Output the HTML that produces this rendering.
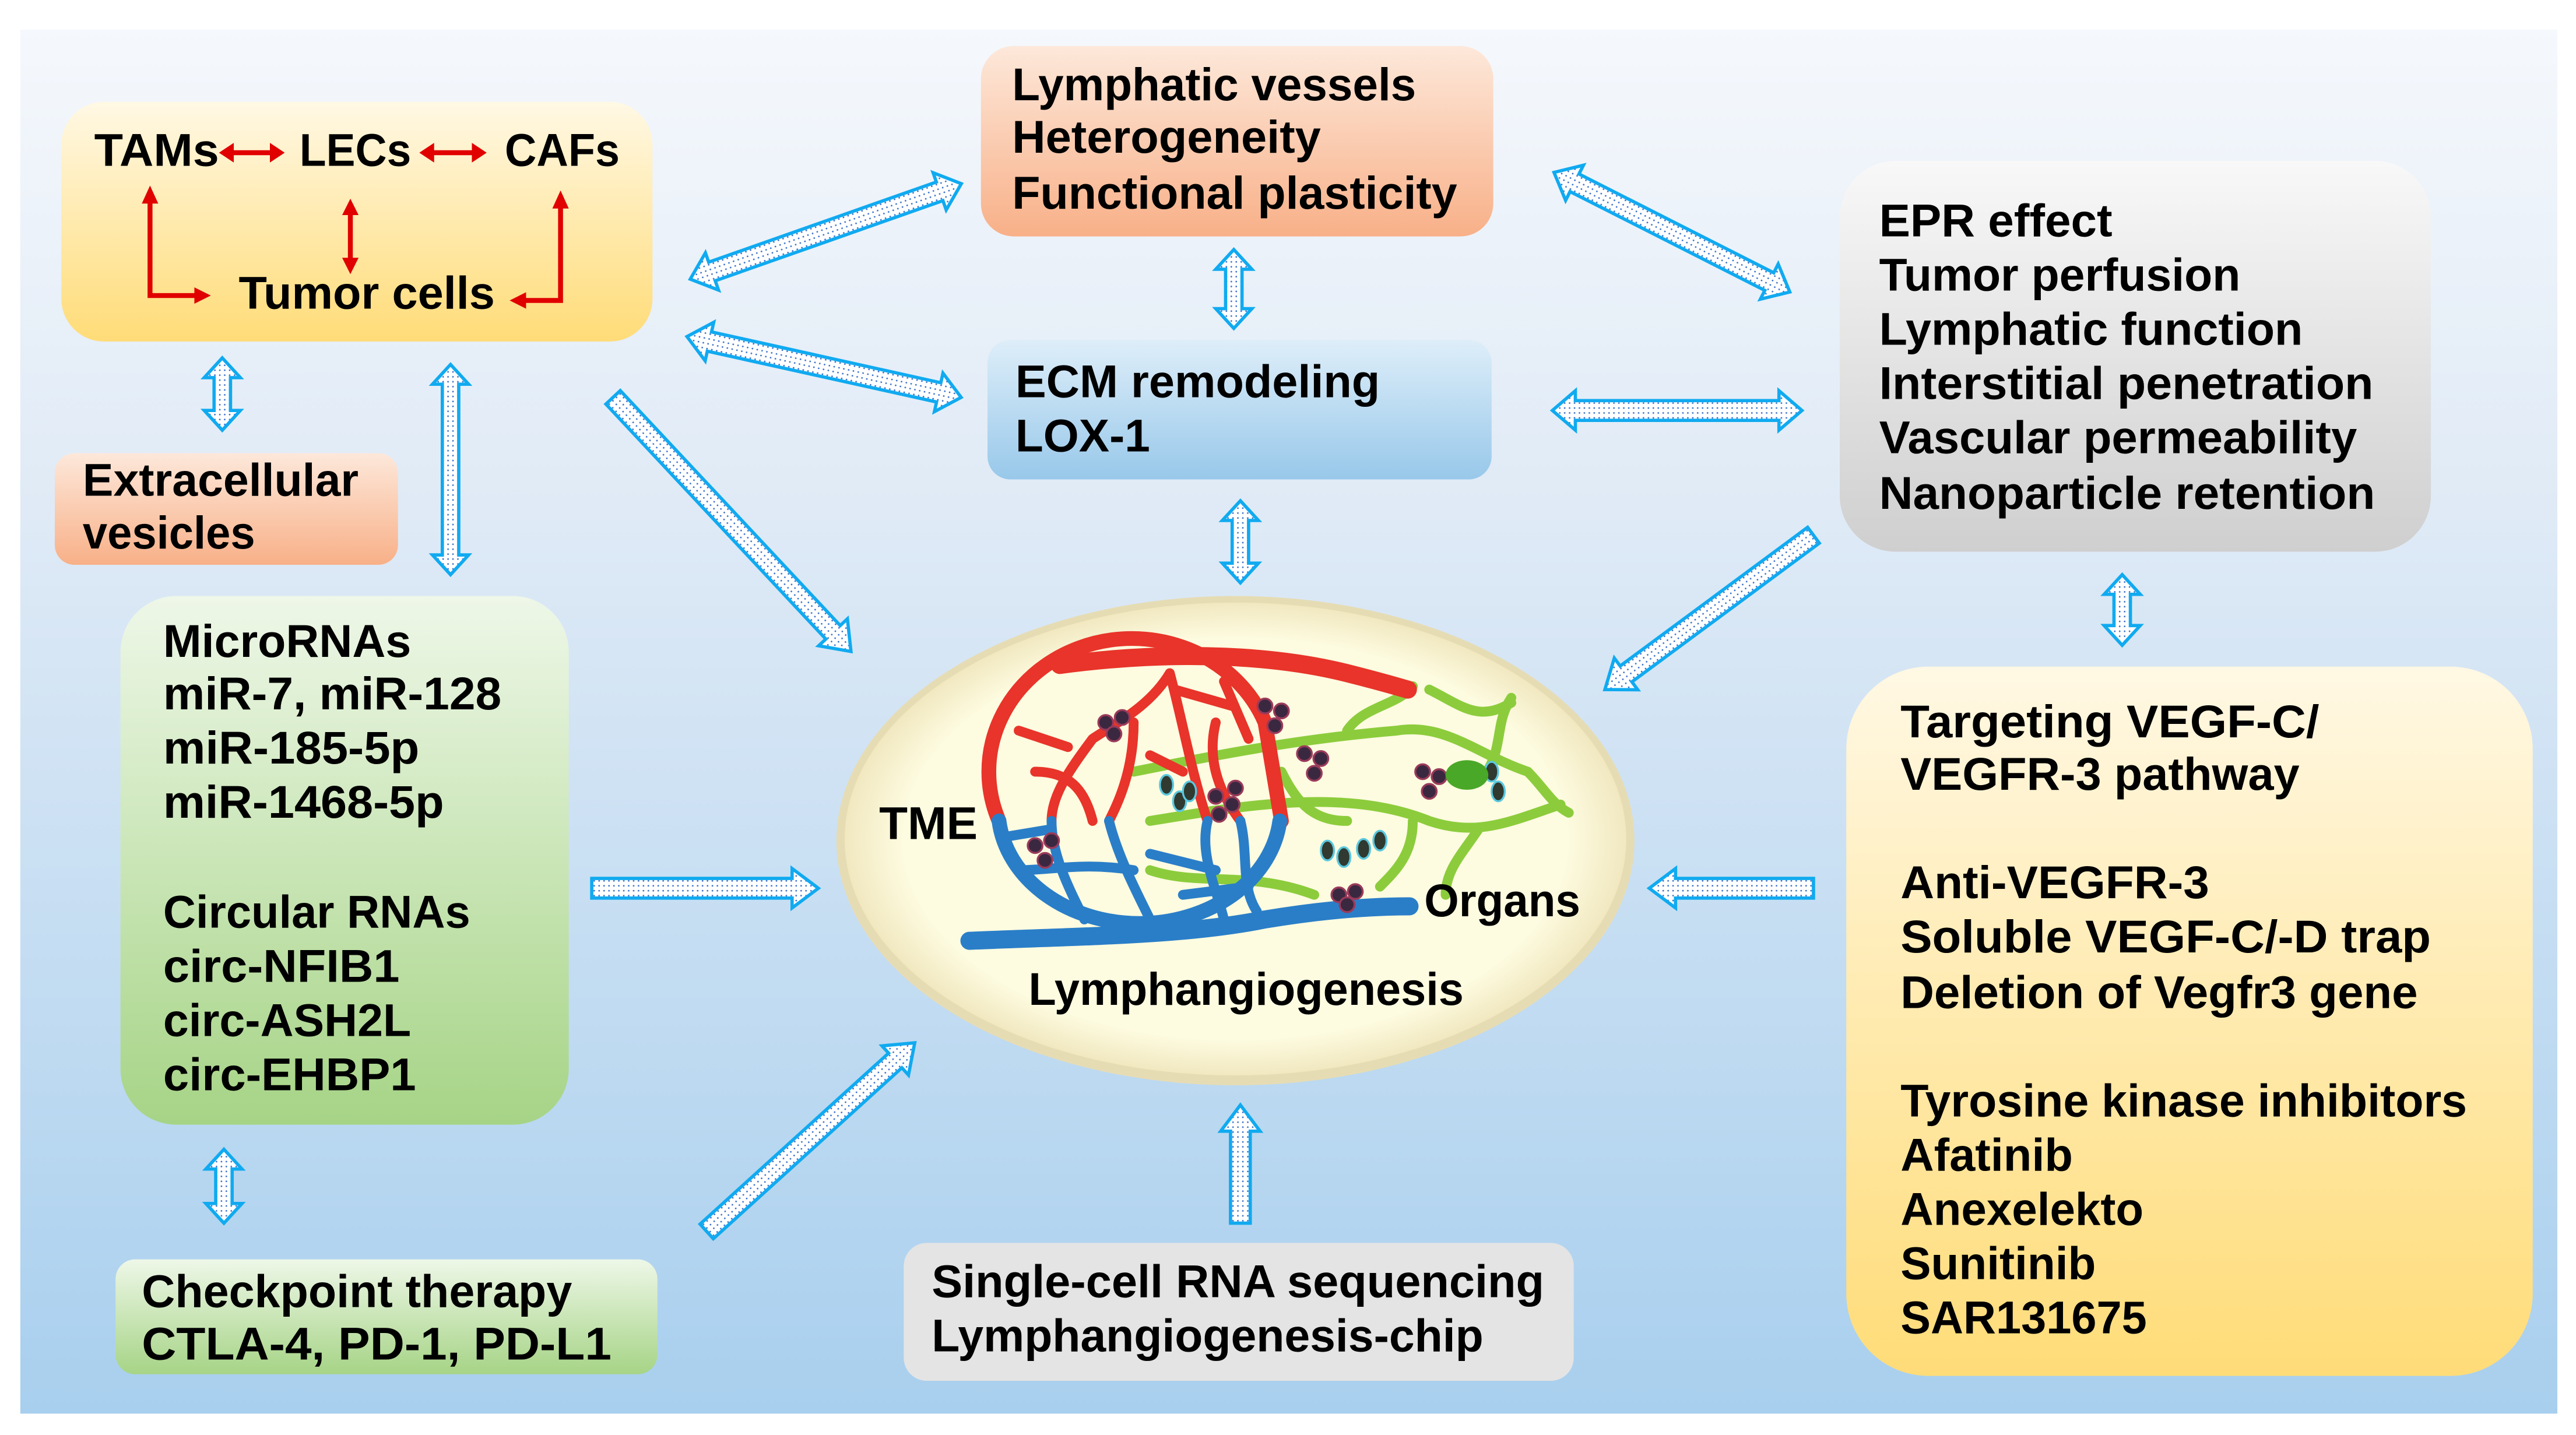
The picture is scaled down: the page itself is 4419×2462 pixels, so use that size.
<!DOCTYPE html>
<html><head><meta charset="utf-8"><style>
html,body{margin:0;padding:0;background:#fff;}
svg{display:block;}
text{font-family:"Liberation Sans Narrow","Liberation Sans",sans-serif;font-size:28px;font-weight:bold;fill:#000;}
</style></head><body>
<svg width="4419" height="2462" viewBox="0 0 1568 874" xmlns="http://www.w3.org/2000/svg">
<defs>
<linearGradient id="bg" x1="0" y1="0" x2="0" y2="1"><stop offset="0" stop-color="#f5f8fc"/><stop offset="0.35" stop-color="#dfeaf6"/><stop offset="1" stop-color="#a8cfee"/></linearGradient>
<linearGradient id="yel" x1="0" y1="0" x2="0" y2="1"><stop offset="0" stop-color="#fff8e4"/><stop offset="1" stop-color="#ffdc78"/></linearGradient>
<linearGradient id="peach" x1="0" y1="0" x2="0" y2="1"><stop offset="0" stop-color="#fde8da"/><stop offset="1" stop-color="#f8b088"/></linearGradient>
<linearGradient id="blue" x1="0" y1="0" x2="0" y2="1"><stop offset="0" stop-color="#deeef9"/><stop offset="1" stop-color="#98c8ea"/></linearGradient>
<linearGradient id="gray" x1="0" y1="0" x2="0" y2="1"><stop offset="0" stop-color="#f8f8f8"/><stop offset="1" stop-color="#cfcfcf"/></linearGradient>
<linearGradient id="green" x1="0" y1="0" x2="0" y2="1"><stop offset="0" stop-color="#eef7e8"/><stop offset="1" stop-color="#a6d486"/></linearGradient>
<radialGradient id="ell" cx="0.5" cy="0.5" r="0.5"><stop offset="0.85" stop-color="#fdfbe0"/><stop offset="1" stop-color="#f1e8c0"/></radialGradient>
<pattern id="dots" width="3" height="3" patternUnits="userSpaceOnUse"><rect width="3" height="3" fill="#fff"/><circle cx="1.5" cy="1.5" r="0.5" fill="#3a70c8"/></pattern>
</defs>
<rect x="12" y="18" width="1545" height="843" fill="url(#bg)"/>

<rect x="37" y="62" width="360" height="146" rx="26" fill="url(#yel)"/>
<rect x="597" y="28" width="312" height="116" rx="20" fill="url(#peach)"/>
<rect x="601" y="207" width="307" height="85" rx="14" fill="url(#blue)"/>
<rect x="1120" y="98" width="360" height="238" rx="34" fill="url(#gray)"/>
<rect x="33" y="276" width="209" height="68" rx="12" fill="url(#peach)"/>
<rect x="73" y="363" width="273" height="322" rx="34" fill="url(#green)"/>
<rect x="70" y="767" width="330" height="70" rx="12" fill="url(#green)"/>
<rect x="550" y="757" width="408" height="84" rx="14" fill="#e4e4e4"/>
<rect x="1124" y="406" width="418" height="432" rx="50" fill="url(#yel)"/>

<text x="57" y="101" textLength="76" lengthAdjust="spacingAndGlyphs">TAMs</text>
<text x="182" y="101" textLength="68" lengthAdjust="spacingAndGlyphs">LECs</text>
<text x="307" y="101" textLength="70" lengthAdjust="spacingAndGlyphs">CAFs</text>
<text x="145" y="188" textLength="156" lengthAdjust="spacingAndGlyphs">Tumor cells</text>
<g fill="#e00000" stroke="#e00000" stroke-width="3">
<line x1="140" y1="93" x2="166" y2="93"/><polygon points="133,93 142,87 142,99" stroke="none"/><polygon points="173,93 164,87 164,99" stroke="none"/>
<line x1="262" y1="93" x2="289" y2="93"/><polygon points="255,93 264,87 264,99" stroke="none"/><polygon points="296,93 287,87 287,99" stroke="none"/>
<line x1="213" y1="128" x2="213" y2="160"/><polygon points="213,121 208,131 218,131" stroke="none"/><polygon points="213,167 208,157 218,157" stroke="none"/>
<polyline points="91,122 91,180 120,180" fill="none"/><polygon points="91,113 86,124 96,124" stroke="none"/><polygon points="128,180 118,175 118,185" stroke="none"/>
<polyline points="341,125 341,183 318,183" fill="none"/><polygon points="341,116 336,127 346,127" stroke="none"/><polygon points="310,183 320,178 320,188" stroke="none"/>
</g>

<text x="616" y="61" textLength="246" lengthAdjust="spacingAndGlyphs">Lymphatic vessels</text>
<text x="616" y="93" textLength="188" lengthAdjust="spacingAndGlyphs">Heterogeneity</text>
<text x="616" y="127" textLength="271" lengthAdjust="spacingAndGlyphs">Functional plasticity</text>
<text x="618" y="242" textLength="222" lengthAdjust="spacingAndGlyphs">ECM remodeling</text>
<text x="618" y="275" textLength="82" lengthAdjust="spacingAndGlyphs">LOX-1</text>
<text x="1144" y="144" textLength="142" lengthAdjust="spacingAndGlyphs">EPR effect</text>
<text x="1144" y="177" textLength="220" lengthAdjust="spacingAndGlyphs">Tumor perfusion</text>
<text x="1144" y="210" textLength="258" lengthAdjust="spacingAndGlyphs">Lymphatic function</text>
<text x="1144" y="243" textLength="301" lengthAdjust="spacingAndGlyphs">Interstitial penetration</text>
<text x="1144" y="276" textLength="291" lengthAdjust="spacingAndGlyphs">Vascular permeability</text>
<text x="1144" y="310" textLength="302" lengthAdjust="spacingAndGlyphs">Nanoparticle retention</text>
<text x="50" y="302" textLength="168" lengthAdjust="spacingAndGlyphs">Extracellular</text>
<text x="50" y="334" textLength="105" lengthAdjust="spacingAndGlyphs">vesicles</text>
<text x="99" y="400" textLength="151" lengthAdjust="spacingAndGlyphs">MicroRNAs</text>
<text x="99" y="432" textLength="206" lengthAdjust="spacingAndGlyphs">miR-7, miR-128</text>
<text x="99" y="465" textLength="156" lengthAdjust="spacingAndGlyphs">miR-185-5p</text>
<text x="99" y="498" textLength="171" lengthAdjust="spacingAndGlyphs">miR-1468-5p</text>
<text x="99" y="565" textLength="187" lengthAdjust="spacingAndGlyphs">Circular RNAs</text>
<text x="99" y="598" textLength="144" lengthAdjust="spacingAndGlyphs">circ-NFIB1</text>
<text x="99" y="631" textLength="151" lengthAdjust="spacingAndGlyphs">circ-ASH2L</text>
<text x="99" y="664" textLength="154" lengthAdjust="spacingAndGlyphs">circ-EHBP1</text>
<text x="86" y="796" textLength="262" lengthAdjust="spacingAndGlyphs">Checkpoint therapy</text>
<text x="86" y="828" textLength="286" lengthAdjust="spacingAndGlyphs">CTLA-4, PD-1, PD-L1</text>
<text x="567" y="790" textLength="373" lengthAdjust="spacingAndGlyphs">Single-cell RNA sequencing</text>
<text x="567" y="823" textLength="336" lengthAdjust="spacingAndGlyphs">Lymphangiogenesis-chip</text>
<text x="1157" y="449" textLength="255" lengthAdjust="spacingAndGlyphs">Targeting VEGF-C/</text>
<text x="1157" y="481" textLength="243" lengthAdjust="spacingAndGlyphs">VEGFR-3 pathway</text>
<text x="1157" y="547" textLength="188" lengthAdjust="spacingAndGlyphs">Anti-VEGFR-3</text>
<text x="1157" y="580" textLength="323" lengthAdjust="spacingAndGlyphs">Soluble VEGF-C/-D trap</text>
<text x="1157" y="614" textLength="315" lengthAdjust="spacingAndGlyphs">Deletion of Vegfr3 gene</text>
<text x="1157" y="680" textLength="345" lengthAdjust="spacingAndGlyphs">Tyrosine kinase inhibitors</text>
<text x="1157" y="713" textLength="105" lengthAdjust="spacingAndGlyphs">Afatinib</text>
<text x="1157" y="746" textLength="148" lengthAdjust="spacingAndGlyphs">Anexelekto</text>
<text x="1157" y="779" textLength="119" lengthAdjust="spacingAndGlyphs">Sunitinib</text>
<text x="1157" y="812" textLength="150" lengthAdjust="spacingAndGlyphs">SAR131675</text>

<ellipse cx="752" cy="512" rx="243" ry="149" fill="#e6dcb4"/>
<ellipse cx="752" cy="511" rx="238" ry="144" fill="url(#ell)"/>
<g fill="none" stroke-linecap="round">
<g stroke="#8ccc3c" stroke-width="6">
<path d="M690 470 C740 460 790 450 850 445 C880 440 900 460 930 470"/>
<path d="M700 500 C760 490 820 480 870 500 C900 510 920 500 950 490"/>
<path d="M820 445 C830 430 850 430 860 418"/>
<path d="M870 420 C890 430 900 440 920 428 M905 470 C915 455 910 440 920 425"/>
<path d="M860 500 C860 520 850 530 840 540"/>
<path d="M900 505 C890 520 880 530 880 545"/>
<path d="M700 530 C730 540 760 530 800 545"/>
<path d="M780 470 C790 490 800 500 820 500"/>
<path d="M930 470 C940 480 945 490 955 495"/>
</g>
<path d="M645 405 C720 395 780 400 820 410 C840 415 850 418 857 420" stroke="#e8342a" stroke-width="11"/>
<path d="M608 500 A86 80 0 0 1 770 440 L780 500" stroke="#e8342a" stroke-width="9"/>
<g stroke="#e8342a" stroke-width="6">
<path d="M712 410 C700 430 680 440 665 450 M712 410 C720 440 725 470 735 500 M665 450 C650 470 640 485 640 500 M690 440 C690 470 680 490 675 500 M740 440 C735 460 740 480 755 500 M630 470 C650 470 660 480 665 500 M700 460 L720 470 M715 420 L750 430 M620 445 L650 455 M745 415 L760 450"/>
</g>
<path d="M608 500 A86 70 0 0 0 779 500" stroke="#2a7ec8" stroke-width="9"/>
<path d="M590 573 C660 570 720 570 770 560 C800 555 830 552 858 552" stroke="#2a7ec8" stroke-width="11"/>
<g stroke="#2a7ec8" stroke-width="6">
<path d="M640 500 C640 520 650 540 660 560 M675 500 C680 520 690 540 700 560 M735 500 C730 520 740 540 745 560 M755 500 C760 520 755 540 765 555 M620 530 C640 530 660 525 690 530 M700 520 L740 530 M720 545 L760 540 M610 510 L640 505"/>
</g>
</g>
<g fill="#3a2840" stroke="#9a3a5a" stroke-width="1.2">
<circle cx="673" cy="440" r="4.5"/><circle cx="683" cy="437" r="4.5"/><circle cx="678" cy="447" r="4.5"/>
<circle cx="770" cy="430" r="4.5"/><circle cx="780" cy="433" r="4.5"/><circle cx="776" cy="442" r="4.5"/>
<circle cx="794" cy="459" r="4.5"/><circle cx="804" cy="462" r="4.5"/><circle cx="800" cy="471" r="4.5"/>
<circle cx="740" cy="485" r="4.5"/><circle cx="750" cy="490" r="4.5"/><circle cx="742" cy="496" r="4.5"/><circle cx="752" cy="480" r="4.5"/>
<circle cx="866" cy="470" r="4.5"/><circle cx="876" cy="473" r="4.5"/><circle cx="870" cy="482" r="4.5"/>
<circle cx="630" cy="515" r="4.5"/><circle cx="640" cy="512" r="4.5"/><circle cx="636" cy="524" r="4.5"/>
<circle cx="815" cy="545" r="4.5"/><circle cx="825" cy="543" r="4.5"/><circle cx="820" cy="551" r="4.5"/>
</g>
<g fill="#303a30" stroke="#5ac8e0" stroke-width="1.2">
<ellipse cx="710" cy="478" rx="4" ry="6"/><ellipse cx="718" cy="488" rx="4" ry="6"/><ellipse cx="724" cy="482" rx="4" ry="6"/>
<ellipse cx="808" cy="518" rx="4" ry="6"/><ellipse cx="818" cy="522" rx="4" ry="6"/><ellipse cx="830" cy="517" rx="4" ry="6"/><ellipse cx="840" cy="512" rx="4" ry="6"/>
<ellipse cx="908" cy="470" rx="4" ry="6"/><ellipse cx="912" cy="482" rx="4" ry="6"/>
</g>
<ellipse cx="893" cy="472" rx="13" ry="9" fill="#4aa828"/>
<text x="535" y="511" textLength="60" lengthAdjust="spacingAndGlyphs">TME</text>
<text x="867" y="558" textLength="95" lengthAdjust="spacingAndGlyphs">Organs</text>
<text x="626" y="612" textLength="265" lengthAdjust="spacingAndGlyphs">Lymphangiogenesis</text>

<g fill="url(#dots)" stroke="#10aaf0" stroke-width="2" stroke-linejoin="miter">
<g transform="translate(420,170) rotate(-19.4)"><polygon points="0,0 14,-12 14,-6 161,-6 161,-12 175,0 161,12 161,6 14,6 14,12"/></g>
<g transform="translate(418,205) rotate(12.5)"><polygon points="0,0 14,-12 14,-6 157,-6 157,-12 171,0 157,12 157,6 14,6 14,12"/></g>
<g transform="translate(751,152) rotate(90)"><polygon points="0,0 12,-11 12,-5 36,-5 36,-11 48,0 36,11 36,5 12,5 12,11"/></g>
<g transform="translate(946,105) rotate(26.9)"><polygon points="0,0 14,-12 14,-6 147,-6 147,-12 161,0 147,12 147,6 14,6 14,12"/></g>
<g transform="translate(945,250)"><polygon points="0,0 14,-12 14,-6 138,-6 138,-12 152,0 138,12 138,6 14,6 14,12"/></g>
<g transform="translate(755,305) rotate(90)"><polygon points="0,0 12,-11 12,-5 38,-5 38,-11 50,0 38,11 38,5 12,5 12,11"/></g>
<g transform="translate(373,242) rotate(46.9)"><polygon points="0,-6 196,-6 196,-12 212,0 196,12 196,6 0,6"/></g>
<g transform="translate(1104,326) rotate(143.5)"><polygon points="0,-6 142,-6 142,-12 158,0 142,12 142,6 0,6"/></g>
<g transform="translate(135,218) rotate(90)"><polygon points="0,0 12,-11 12,-5 32,-5 32,-11 44,0 32,11 32,5 12,5 12,11"/></g>
<g transform="translate(274,222) rotate(90)"><polygon points="0,0 12,-11 12,-5 116,-5 116,-11 128,0 116,11 116,5 12,5 12,11"/></g>
<g transform="translate(1292,350) rotate(90)"><polygon points="0,0 12,-11 12,-5 31,-5 31,-11 43,0 31,11 31,5 12,5 12,11"/></g>
<g transform="translate(360,541)"><polygon points="0,-6 122,-6 122,-12 138,0 122,12 122,6 0,6"/></g>
<g transform="translate(1104,541) rotate(180)"><polygon points="0,-6 84,-6 84,-12 100,0 84,12 84,6 0,6"/></g>
<g transform="translate(136,700) rotate(90)"><polygon points="0,0 12,-11 12,-5 33,-5 33,-11 45,0 33,11 33,5 12,5 12,11"/></g>
<g transform="translate(430,750) rotate(-42.2)"><polygon points="0,-6 155,-6 155,-12 171,0 155,12 155,6 0,6"/></g>
<g transform="translate(755,745) rotate(-90)"><polygon points="0,-6 56,-6 56,-12 72,0 56,12 56,6 0,6"/></g>
</g>
</svg>
</body></html>
